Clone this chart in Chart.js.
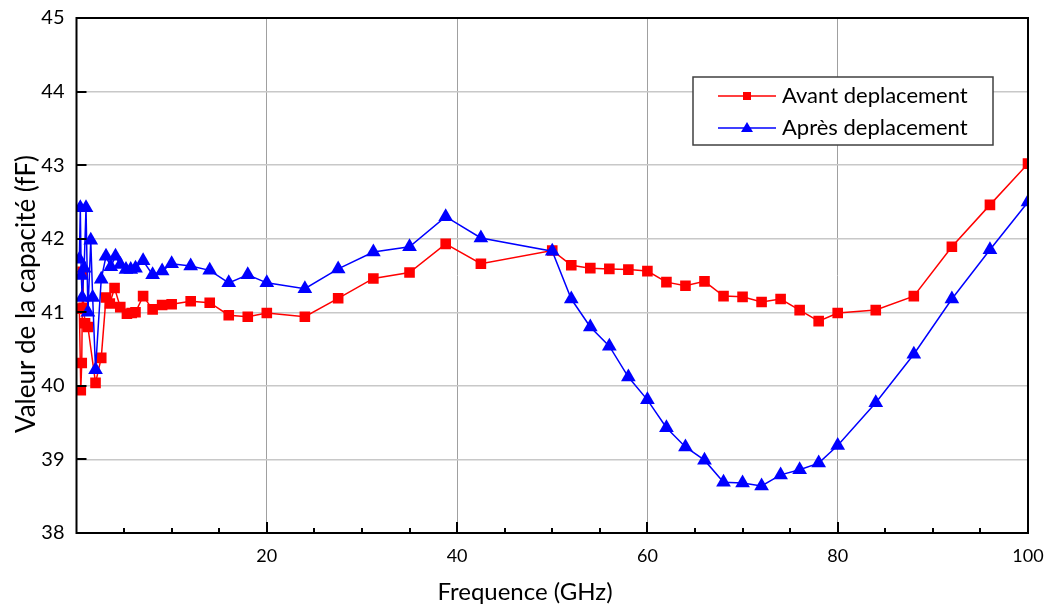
<!DOCTYPE html>
<html>
<head>
<meta charset="utf-8">
<script src="https://cdn.jsdelivr.net/npm/chart.js@4.4.0/dist/chart.umd.min.js"></script>
<style>
  html, body { margin: 0; padding: 0; background: #fff; }
  #wrap { width: 1048px; height: 606px; position: relative; }
</style>
</head>
<body>
<div id="wrap"><canvas id="c" width="1048" height="606"></canvas></div>
<script>
const freqAvant = [0.3, 0.45, 0.55, 0.65, 0.75, 0.9, 1.2, 2.0, 2.6, 3.1, 3.5, 4.0, 4.6, 5.3, 5.8, 6.2, 7.0, 8.0, 9.0, 10, 12, 14, 16, 18, 20, 24, 27.5, 31.2, 35, 38.8, 42.5, 50, 52, 54, 56, 58, 60, 62, 64, 66, 68, 70, 72, 74, 76, 78, 80, 84, 88, 92, 96, 100];
const capAvant = [41.05, 39.94, 40.31, 41.55, 41.06, 40.85, 40.80, 40.04, 40.38, 41.20, 41.12, 41.33, 41.07, 40.98, 40.99, 41.00, 41.22, 41.04, 41.10, 41.11, 41.15, 41.13, 40.96, 40.94, 40.99, 40.94, 41.19, 41.46, 41.54, 41.93, 41.66, 41.84, 41.64, 41.60, 41.59, 41.58, 41.56, 41.41, 41.36, 41.42, 41.22, 41.21, 41.14, 41.18, 41.03, 40.88, 40.99, 41.03, 41.22, 41.89, 42.46, 43.02];

const freqApres = [0.3, 0.4, 0.5, 0.6, 0.8, 1.0, 1.2, 1.5, 1.7, 2.0, 2.6, 3.1, 3.6, 4.1, 4.6, 5.2, 5.7, 6.2, 7.0, 8.0, 9.0, 10, 12, 14, 16, 18, 20, 24, 27.5, 31.2, 35, 38.8, 42.5, 50, 52, 54, 56, 58, 60, 62, 64, 66, 68, 70, 72, 74, 76, 78, 80, 84, 88, 92, 96, 100];
const capApres = [41.72, 42.42, 41.50, 41.20, 41.60, 42.42, 41.00, 41.98, 41.20, 40.22, 41.45, 41.76, 41.62, 41.76, 41.65, 41.58, 41.58, 41.60, 41.70, 41.51, 41.56, 41.66, 41.63, 41.57, 41.40, 41.51, 41.40, 41.32, 41.59, 41.82, 41.89, 42.30, 42.01, 41.83, 41.18, 40.80, 40.54, 40.12, 39.81, 39.43, 39.17, 38.99, 38.69, 38.68, 38.64, 38.79, 38.86, 38.95, 39.19, 39.77, 40.43, 41.18, 41.85, 42.50];

const seriesNames = ['Avant deplacement', 'Après deplacement'];
const xTitle = 'Frequence (GHz)';
const yTitle = 'Valeur de la capacité (fF)';

const FONT = 'Lato, "Open Sans", sans-serif';

const framePlugin = {
  id: 'frame',
  afterDraw(chart) {
    const ctx = chart.ctx;
    const a = chart.chartArea;
    const xs = chart.scales.x, ys = chart.scales.y;
    ctx.save();
    ctx.strokeStyle = '#000';
    ctx.lineWidth = 2;
    for (let v = 5; v < 100; v += 5) {
      const px = Math.round(xs.getPixelForValue(v));
      const len = (v % 20 === 0) ? 11 : 5;
      ctx.beginPath();
      ctx.moveTo(px, a.bottom);
      ctx.lineTo(px, a.bottom - len);
      ctx.stroke();
    }
    for (let v = 39; v < 45; v += 1) {
      const py = Math.round(ys.getPixelForValue(v));
      ctx.beginPath();
      ctx.moveTo(a.left, py);
      ctx.lineTo(a.left + 10, py);
      ctx.stroke();
    }
    ctx.lineWidth = 2;
    ctx.strokeRect(a.left, a.top, a.right - a.left, a.bottom - a.top);

    ctx.fillStyle = '#000';
    ctx.font = '24px ' + FONT;
    ctx.textAlign = 'center';
    ctx.textBaseline = 'middle';
    ctx.fillText(xTitle, 525, 592);
    ctx.save();
    ctx.translate(27, 294);
    ctx.rotate(-Math.PI / 2);
    ctx.font = '26px ' + FONT;
    ctx.fillText(yTitle, 0, 0);
    ctx.restore();

    const lx = 693, ly = 77, lw = 300, lh = 68;
    ctx.fillStyle = '#fff';
    ctx.fillRect(lx, ly, lw, lh);
    ctx.strokeStyle = '#404040';
    ctx.lineWidth = 1.5;
    ctx.strokeRect(lx, ly, lw, lh);
    const rows = [
      { y: 96, color: '#ff0000', style: 'rect', text: seriesNames[0] },
      { y: 128, color: '#0000ff', style: 'tri', text: seriesNames[1] }
    ];
    rows.forEach(r => {
      ctx.strokeStyle = r.color;
      ctx.lineWidth = 1.5;
      ctx.beginPath();
      ctx.moveTo(718, r.y);
      ctx.lineTo(776, r.y);
      ctx.stroke();
      ctx.fillStyle = r.color;
      if (r.style === 'rect') {
        ctx.fillRect(743, r.y - 4, 8, 8);
      } else {
        ctx.beginPath();
        ctx.moveTo(747, r.y - 6);
        ctx.lineTo(753, r.y + 4);
        ctx.lineTo(741, r.y + 4);
        ctx.closePath();
        ctx.fill();
      }
      ctx.fillStyle = '#000';
      ctx.font = '22px ' + FONT;
      ctx.textAlign = 'left';
      ctx.textBaseline = 'middle';
      ctx.fillText(r.text, 782, r.y);
    });
    ctx.restore();
  }
};

new Chart(document.getElementById('c'), {
  type: 'line',
  data: {
    datasets: [
      {
        label: seriesNames[0],
        data: freqAvant.map((x, i) => ({ x: x, y: capAvant[i] })),
        borderColor: '#ff0000',
        backgroundColor: '#ff0000',
        borderWidth: 1.5,
        pointStyle: 'rect',
        pointRadius: 7.5,
        pointBorderWidth: 0,
        tension: 0,
        order: 2
      },
      {
        label: seriesNames[1],
        data: freqApres.map((x, i) => ({ x: x, y: capApres[i] })),
        borderColor: '#0000ff',
        backgroundColor: '#0000ff',
        borderWidth: 1.5,
        pointStyle: 'triangle',
        pointRadius: 8.5,
        pointBorderWidth: 0,
        tension: 0,
        order: 1
      }
    ]
  },
  options: {
    responsive: false,
    animation: false,
    devicePixelRatio: 1,
    layout: { padding: { left: 0, right: 20, top: 18, bottom: 0 } },
    plugins: { legend: { display: false }, tooltip: { enabled: false } },
    scales: {
      x: {
        type: 'linear',
        min: 0, max: 100,
        afterFit(s) { s.height = 73; s.paddingLeft = 0; s.paddingRight = 0; },
        border: { display: false },
        grid: {
          drawTicks: false,
          color: c => (c.tick && c.tick.value % 20 === 0) ? '#a0a0a0' : 'rgba(0,0,0,0)',
          lineWidth: 1
        },
        ticks: {
          stepSize: 5,
          autoSkip: false,
          maxRotation: 0,
          padding: 12,
          color: '#000',
          font: { family: FONT, size: 18 },
          callback: v => (v % 20 === 0 && v !== 0) ? String(v) : ''
        }
      },
      y: {
        min: 38, max: 45,
        afterFit(s) { s.width = 76.5; s.paddingTop = 0; s.paddingBottom = 0; },
        border: { display: false },
        grid: { drawTicks: false, color: '#c8c8c8', lineWidth: 1.5 },
        ticks: {
          stepSize: 1,
          padding: 12,
          color: '#000',
          font: { family: FONT, size: 20 }
        }
      }
    }
  },
  plugins: [framePlugin]
});
</script>
</body>
</html>
